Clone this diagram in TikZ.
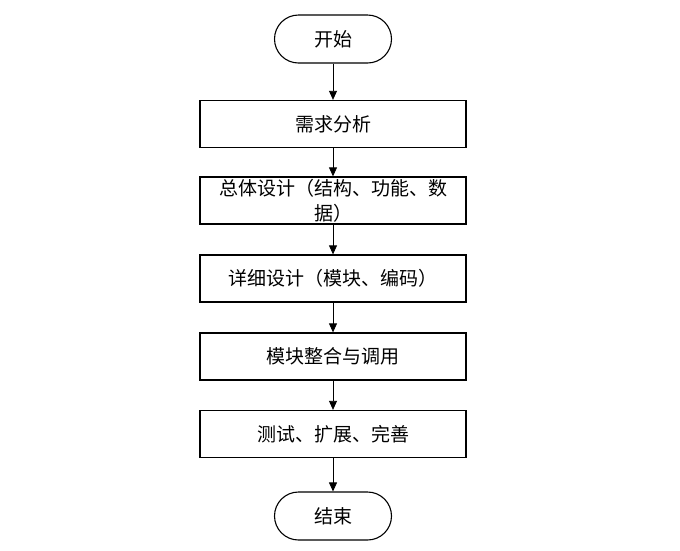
\documentclass[tikz,border=0pt]{standalone}
\usepackage{fontspec}
\setmainfont{Noto Sans CJK SC}
\usetikzlibrary{arrows.meta}
\begin{document}
\begin{tikzpicture}[x=1pt,y=-1pt,
  term/.style={draw=black,line width=1.1pt,rounded corners=24pt,minimum width=117pt,minimum height=48pt,inner sep=0pt,font=\fontsize{19}{25}\selectfont},
  proc/.style={draw=black,line width=1.3pt,minimum width=266pt,minimum height=47pt,inner sep=0pt,align=center,font=\fontsize{19}{25}\selectfont},
  flow/.style={draw=black,line width=0.8pt,-{Triangle[length=9pt,width=8pt]}}]
\useasboundingbox (0,0) rectangle (680,550);
\node[term] (start) at (333,39) {开始};
\node[proc] (b1) at (333,124) {需求分析};
\node[proc] (b2) at (333,200.5) {总体设计（结构、功能、数\\据）};
\node[proc] (b3) at (333,278.5) {详细设计（模块、编码）};
\node[proc] (b4) at (333,356.5) {模块整合与调用};
\node[proc] (b5) at (333,434) {测试、扩展、完善};
\node[term] (end) at (333,516) {结束};
\draw[flow] (start) -- (b1);
\draw[flow] (b1) -- (b2);
\draw[flow] (b2) -- (b3);
\draw[flow] (b3) -- (b4);
\draw[flow] (b4) -- (b5);
\draw[flow] (b5) -- (end);
\end{tikzpicture}
\end{document}
